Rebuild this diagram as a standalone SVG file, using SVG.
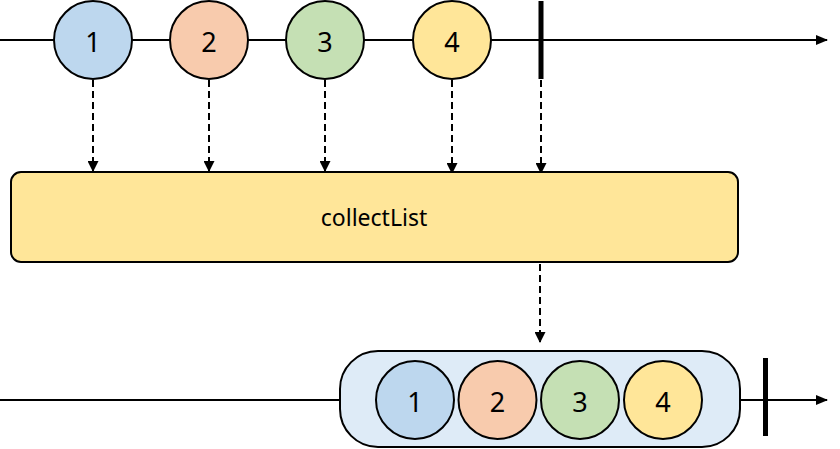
<svg xmlns="http://www.w3.org/2000/svg" width="840" height="449" viewBox="0 0 840 449">
<defs>
<style>
.line{stroke:#000;stroke-width:2;fill:none}
.dash{stroke:#000;stroke-width:2;fill:none;stroke-dasharray:7 4}
.c{stroke:#000;stroke-width:2}
.blue{fill:#BDD7EE}.orange{fill:#F8CBAD}.green{fill:#C5E0B4}.yellow{fill:#FFE699}
.num{font-family:"Noto Sans","Open Sans",sans-serif;font-size:27px;text-anchor:middle;dominant-baseline:central;fill:#000}
.lbl{font-family:"Noto Sans","Open Sans",sans-serif;font-size:23px;text-anchor:middle;dominant-baseline:central;fill:#000}
</style>
<marker id="arr" markerWidth="12" markerHeight="10" refX="11" refY="5" orient="auto" markerUnits="userSpaceOnUse">
<path d="M0,0 L12,5 L0,10 Z" fill="#000"/>
</marker>
<marker id="arrs" markerWidth="11" markerHeight="11" refX="10" refY="5.5" orient="auto" markerUnits="userSpaceOnUse">
<path d="M0,0 L11,5.5 L0,11 Z" fill="#000"/>
</marker>
</defs>
<g id="connectors">
<line class="line" x1="0" y1="40" x2="827" y2="40" marker-end="url(#arr)"/>
<line class="line" x1="0" y1="400" x2="827" y2="400" marker-end="url(#arr)"/>
<line class="dash" x1="93" y1="80" x2="93" y2="171" marker-end="url(#arrs)"/>
<line class="dash" x1="209" y1="80" x2="209" y2="171" marker-end="url(#arrs)"/>
<line class="dash" x1="325" y1="80" x2="325" y2="171" marker-end="url(#arrs)"/>
<line class="dash" x1="452" y1="80" x2="452" y2="173" marker-end="url(#arrs)"/>
<line class="dash" x1="541" y1="80" x2="541" y2="173" marker-end="url(#arrs)"/>
<line class="dash" x1="540" y1="264" x2="540" y2="342" marker-end="url(#arrs)"/>
</g>
<g id="top-1"><circle class="c blue" cx="93" cy="40" r="39"/><text class="num" x="93" y="41">1</text></g>
<g id="top-2"><circle class="c orange" cx="209" cy="40" r="39"/><text class="num" x="209" y="41">2</text></g>
<g id="top-3"><circle class="c green" cx="325" cy="40" r="39"/><text class="num" x="325" y="41">3</text></g>
<g id="top-4"><circle class="c yellow" cx="452" cy="40" r="39"/><text class="num" x="452" y="41">4</text></g>
<g id="top-complete"><rect x="538.5" y="1" width="5" height="78" fill="#000"/></g>
<g id="operator"><rect class="c yellow" x="11" y="172" width="727" height="90" rx="10"/><text class="lbl" x="374" y="217">collectList</text></g>
<g id="list">
<rect x="340" y="351" width="400" height="96" rx="38" fill="#DEEBF7" stroke="#000" stroke-width="2"/>
<circle class="c blue" cx="415" cy="400" r="39"/><text class="num" x="415" y="401">1</text>
<circle class="c orange" cx="497.5" cy="400" r="39"/><text class="num" x="497.5" y="401">2</text>
<circle class="c green" cx="580" cy="400" r="39"/><text class="num" x="580" y="401">3</text>
<circle class="c yellow" cx="663" cy="400" r="39"/><text class="num" x="663" y="401">4</text>
</g>
<g id="bottom-complete"><rect x="763" y="358" width="5" height="78" fill="#000"/></g>
</svg>
